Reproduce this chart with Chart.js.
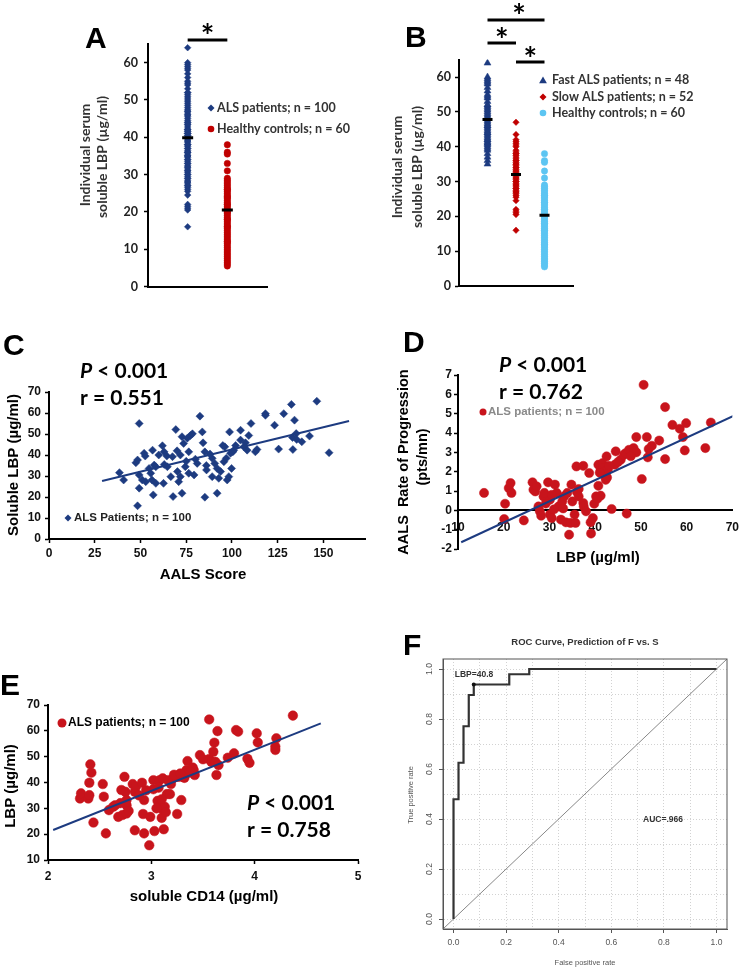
<!DOCTYPE html>
<html>
<head>
<meta charset="utf-8">
<title>LBP in ALS</title>
<script src="https://cdn.jsdelivr.net/npm/chart.js"></script>
<style>
  body { margin: 0; background: #fff; }
  #fig { position: relative; width: 749px; height: 968px; overflow: hidden; background: #fff; }
  #fig canvas { position: absolute; }
</style>
</head>
<body>
<div id="fig">
  <canvas id="panelA"></canvas>
  <canvas id="panelB"></canvas>
  <canvas id="panelC"></canvas>
  <canvas id="panelD"></canvas>
  <canvas id="panelE"></canvas>
  <canvas id="panelF"></canvas>
</div>
<script>
// ---- values ----

// A / B: individual serum LBP (ug/ml)
const fastLBP = [64, 60, 59.5, 59, 58.5, 58, 57, 56, 55, 54.5,
  54, 53, 52, 51.5, 51, 50.5, 50, 49.5, 49, 48.5,
  48, 47.5, 47, 46.5, 46, 45.5, 45, 44.5, 44, 43.5,
  43, 42.5, 42, 41.5, 41, 41, 40.5, 40, 39.5, 39,
  38, 37, 36, 35, 46, 44, 42, 52];
const slowLBP = [47, 43.5, 42, 41.5, 41, 40.5, 40, 39, 38.5, 38,
  37.5, 37, 36.5, 36, 35.5, 35, 34.5, 34, 33.5, 33,
  32.5, 32, 31.5, 31, 30.5, 30, 29.5, 29, 28.5, 28,
  27.5, 27, 26.5, 26, 25.5, 24.5, 22, 21.5, 21, 20.5,
  16, 33, 31, 35, 30, 28, 32, 34, 29, 36, 27, 38];
const healthyLBP = [38, 36, 35.5, 33, 31, 29, 28.5, 28, 27.5, 27,
  26.5, 26, 25.5, 25, 24.5, 24, 23.5, 23, 22.5, 22,
  21.5, 21, 20.5, 20, 19.5, 19, 18.5, 18, 17.5, 17,
  16.5, 16, 15.5, 15, 14.5, 14, 13.5, 13, 12.5, 12,
  11.5, 11, 10.5, 10, 9.5, 9, 8.5, 8, 7.5, 7,
  6.5, 6, 5.5, 22, 24, 18, 20, 26, 16, 12];
const alsLBP = fastLBP.concat(slowLBP);
const meanA = [39.9, 20.5];          // ALS patients, healthy controls
const meanB = [47.8, 32.0, 20.3];    // fast, slow, healthy
const ticksAB = [0, 10, 20, 30, 40, 50, 60];

// C: AALS score vs soluble LBP
const aalsScore = [38.5, 40.8, 49.3, 47.5, 48.4, 49.3, 49.3, 48.4, 52, 52.6,
  51, 52.9, 54.7, 55.6, 56.6, 57, 56.3, 57.5, 58.4, 58.4,
  62, 62.6, 62.9, 64.4, 64.7, 66.6, 67.5, 67.8, 69.3, 70.2,
  70.9, 71.8, 71.8, 72.7, 72.7, 73.6, 74.5, 75.6, 76.4, 77.3,
  76.4, 78.4, 79.3, 81, 82.5, 83.8, 84.2, 85.2, 85.2, 86.1,
  89.2, 89.2, 90.6, 91.9, 91.9, 92.8, 93.8, 95.6, 96.1, 96.9,
  97.4, 98.3, 98.7, 99.2, 99.8, 100.5, 101, 104.7, 104.7, 106.5,
  107.4, 108.3, 109.2, 110.4, 112.8, 113.7, 118.3, 118.3, 123.3, 125.5,
  128.3, 132.5, 133.1, 133.3, 134.2, 135.1, 135.4, 138.2, 142.4, 146.4,
  153.1, 60, 63, 75, 88, 95, 80, 70, 102, 86];
const lbpC = [31.6, 28.1, 55, 36.3, 37.6, 30.5, 24.2, 15.8, 40.8, 39.5,
  28.1, 27.3, 33.6, 31.3, 42.3, 21, 28.1, 35.2, 26.5, 34.4,
  44.4, 26.5, 41.5, 39.5, 34.4, 29.7, 39.2, 20.2, 52.1, 32.1,
  27.3, 40, 29.7, 21.8, 48.7, 45.5, 34.4, 48, 41.5, 49.3,
  31.3, 50.1, 30.5, 36, 58.5, 51, 45.8, 41.5, 19.9, 32.9,
  38.4, 29.7, 36, 33.6, 21.8, 28.9, 32.1, 36.8, 43.9, 38.4,
  28.1, 29.7, 51, 40.8, 33.6, 41.5, 42.3, 51.8, 47.1, 43.9,
  45.8, 42.3, 49.3, 55, 41.5, 42.6, 59.7, 58.9, 54.2, 42.8,
  59.7, 64.1, 48.3, 42.6, 56.6, 50.2, 47.4, 46.3, 49, 65.6,
  41.1, 40, 35.5, 37, 40.5, 44.5, 38, 42, 44.5, 35];
const fitCx = [29, 164];
const fitCy = [27.6, 56.2];
const ticksCx = [0, 25, 50, 75, 100, 125, 150];
const ticksCy = [0, 10, 20, 30, 40, 50, 60, 70];

// D: LBP vs AALS rate of progression
const lbpD = [15.7, 20.3, 20.1, 21.1, 21.5, 21.7, 24.4, 26.3, 26.5, 26.9,
  27.2, 27.6, 27.9, 28.2, 28.7, 28.9, 29.7, 30.1, 30.1, 30.5,
  31.2, 31.6, 32, 32.5, 32.8, 33.2, 33.6, 33.9, 34.3, 34.6,
  34.8, 35, 35.5, 35.7, 35.9, 36.4, 36.4, 37.4, 37.4, 37.5,
  38.7, 39, 39.1, 39.5, 39.8, 40.2, 40.7, 40.7, 41.2, 41.2,
  41.6, 41.8, 42, 42.1, 42.3, 42.5, 42.8, 43.6, 44.3, 44.5,
  45.6, 46.3, 46.9, 46.6, 47.4, 48.4, 48.6, 49, 49, 50.2,
  50.6, 51.3, 51.5, 51.7, 52.4, 54, 55.3, 55.3, 56.9, 58.5,
  59.2, 59.6, 59.9, 64.1, 65.3,
  29.2, 31, 33, 36, 38, 40.5, 41, 42.6, 43, 45, 47.8, 30.5];
const rateD = [0.9, 0.34, -0.45, 1.15, 1.41, 0.9, -0.52, 1.45, 1.07, 0.98,
  1.24, 0.2, -0.05, -0.28, 0.72, 0.9, 1.45, -0.22, 0.55, -0.4,
  1.33, 0.9, 0.2, -0.48, 0.46, 0.72, -0.62, 0.9, -1.26, -0.65,
  1.33, 0.46, -0.22, -0.65, 2.27, 0.72, 1.1, 2.3, 0.38, 0.2,
  1.93, -0.62, -1.2, -0.4, 0.34, 0.72, 1.27, 2.36, 2.1, 0.76,
  2.44, 2.2, 1.84, 2.01, 1.58, 2.79, 2.13, 0.07, 2.36, 3.05,
  2.62, 2.87, -0.17, 2.95, 3.13, 3.22, 3.05, 3.79, 3.0, 1.62,
  6.49, 3.79, 2.74, 3.17, 3.34, 3.61, 5.34, 2.65, 4.42, 4.22,
  3.79, 3.1, 4.51, 3.22, 4.54,
  0.35, 0.05, 0.1, 0.95, -0.05, 0.6, 1.95, 1.7, 2.3, 2.5, 2.8, 0.8];
const fitDx = [10.7, 70.3];
const fitDy = [-1.65, 4.89];
const ticksDx = [10, 20, 30, 40, 50, 60, 70];
const ticksDy = [-2, -1, 0, 1, 2, 3, 4, 5, 6, 7];

// E: soluble CD14 vs LBP
const cd14 = [2.31, 2.32, 2.39, 2.40, 2.40, 2.41, 2.42, 2.44, 2.53, 2.54,
  2.56, 2.59, 2.63, 2.65, 2.68, 2.71, 2.72, 2.74, 2.75, 2.76,
  2.76, 2.76, 2.82, 2.84, 2.84, 2.85, 2.91, 2.92, 2.93, 2.93,
  2.98, 2.99, 3.02, 3.02, 3.03, 3.06, 3.08, 3.09, 3.1, 3.1,
  3.11, 3.12, 3.12, 3.13, 3.15, 3.16, 3.18, 3.19, 3.21, 3.24,
  3.25, 3.27, 3.29, 3.31, 3.32, 3.34, 3.35, 3.36, 3.4, 3.41,
  3.42, 3.47, 3.56, 3.56, 3.58, 3.6, 3.61, 3.62, 3.63, 3.64,
  3.65, 3.74, 3.8, 3.82, 3.84, 3.93, 3.95, 4.02, 4.03, 4.2,
  4.2, 4.21, 4.37,
  2.78, 3.05, 3.14, 2.88, 3.22, 3.38, 3.07, 2.7, 3.5, 3.1, 2.95, 3.28];
const lbpE = [33.8, 35.8, 33.8, 35.1, 39.9, 47, 43.8, 24.5, 39.4, 34.5,
  20.3, 29.3, 30.6, 31.2, 26.7, 37.1, 27.4, 42.2, 36.4, 33.2,
  31.2, 28, 39.4, 36.4, 21.5, 38.3, 39.9, 27.8, 20.3, 33.2,
  15.7, 26.7, 40.9, 37.4, 21.2, 32.9, 40.9, 31.2, 29.9, 26.3,
  41.6, 21.9, 29.3, 30.6, 35.5, 40.9, 35.5, 39.4, 41.6, 42.2,
  27.8, 42.2, 33.2, 42.2, 41.8, 44.8, 48.3, 43.8, 45.8, 44.8,
  42.9, 50.6, 64.4, 49.1, 48, 51.9, 55.4, 48, 42.9, 59.9,
  46.7, 49.6, 51.3, 60.3, 59.7, 49.2, 47.6, 59, 55.5, 53.9,
  52.6, 57.1, 65.9,
  29, 30, 28.5, 35, 43, 44, 38, 32, 49, 33.5, 37, 43.5];
const fitEx = [2.05, 4.64];
const fitEy = [21.6, 62.9];
const ticksEx = [2, 3, 4, 5];
const ticksEy = [10, 20, 30, 40, 50, 60, 70];

// F: ROC curve, fast vs slow
const rocFpr = [0, 0, 0.019, 0.019, 0.038, 0.038, 0.058, 0.058, 0.077, 0.077, 0.212, 0.212, 0.288, 0.288, 1.0];
const rocTpr = [0, 0.479, 0.479, 0.625, 0.625, 0.771, 0.771, 0.896, 0.896, 0.938, 0.938, 0.979, 0.979, 1.0, 1.0];
const cutFpr = [0.077];
const cutTpr = [0.938];
const diagF = [-0.04, 1.04];
const gridF = [0, 0.1, 0.2, 0.3, 0.4, 0.5, 0.6, 0.7, 0.8, 0.9, 1.0];

// ---- colours ----
const NAVY = '#1d3b80';
const RED_A = '#c00000';
const SKY = '#5cc5f2';
const RED = '#c8141c';

// ---- helpers ----
const pts = (xs, ys) => xs.map((x, i) => ({x: x, y: ys[i]}));
const col = (x, ys) => ys.map(y => ({x: x, y: y}));

function axis(o) {
  return {
    type: 'linear', position: o.position, min: o.min, max: o.max,
    afterBuildTicks: s => { s.ticks = o.ticks.map(v => ({value: v})); },
    grid: {drawOnChartArea: false, drawTicks: !!o.tl, tickLength: o.tl || 0, tickColor: '#000', tickWidth: 1.5},
    border: {display: true, color: '#000', width: 2},
    ticks: {display: !!o.font, font: o.font, color: o.color || '#111', padding: o.pad || 0,
      autoSkip: false, maxRotation: 0, callback: v => v}
  };
}

function rAxis(position, showLabels) {
  return {
    type: 'linear', position: position, min: -0.04, max: 1.04,
    afterBuildTicks: s => { s.ticks = gridF.map(v => ({value: v})); },
    grid: {drawOnChartArea: true, color: '#d2d2d2', lineWidth: 1, drawTicks: true, tickLength: 4, tickWidth: 1,
      tickColor: c => (c.tick && Math.round(c.tick.value * 10) % 2 !== 0) ? 'rgba(0,0,0,0)' : '#555'},
    border: {display: true, color: '#555', width: 1, dash: [1, 2]},
    ticks: {display: showLabels, autoSkip: false, maxRotation: 0, padding: 5, color: '#555',
      font: {family: 'Liberation Sans', size: 8.5},
      callback: v => Math.round(v * 10) % 2 === 0 ? v.toFixed(1) : ''}
  };
}

function build(id, box, area, yW, xH, datasets, scales, draw) {
  const cv = document.getElementById(id);
  cv.width = box.w; cv.height = box.h;
  cv.style.left = box.x + 'px'; cv.style.top = box.y + 'px';
  scales.y.afterFit = s => { s.width = yW; };
  if (xH !== null) scales.x.afterFit = s => { s.height = xH; };
  return new Chart(cv, {
    type: 'scatter',
    data: {datasets: datasets},
    options: {
      responsive: false, animation: false, devicePixelRatio: 1,
      layout: {padding: {left: area.l - box.x - yW, top: area.t - box.y,
        right: box.x + box.w - area.r, bottom: box.y + box.h - area.b - (xH || 0)}},
      plugins: {legend: {display: false}, tooltip: {enabled: false}},
      scales: scales
    },
    plugins: [{
      id: 'notes',
      afterDraw(chart) {
        const ctx = chart.ctx;
        const sx = v => chart.scales.x.getPixelForValue(v) + box.x;
        const sy = v => chart.scales.y.getPixelForValue(v) + box.y;
        ctx.save();
        ctx.translate(-box.x, -box.y);
        draw(ctx, sx, sy);
        ctx.restore();
      }
    }]
  });
}

function label(ctx, str, x, y, font, color, align, base) {
  ctx.font = font;
  ctx.fillStyle = color || '#000';
  ctx.textAlign = align || 'left';
  ctx.textBaseline = base || 'alphabetic';
  ctx.fillText(str, x, y);
}

function vlabel(ctx, str, x, y, font, color) {
  ctx.save();
  ctx.translate(x, y);
  ctx.rotate(-Math.PI / 2);
  label(ctx, str, 0, 0, font, color, 'center', 'middle');
  ctx.restore();
}

function marker(ctx, style, x, y, r, color) {
  ctx.fillStyle = color;
  ctx.beginPath();
  if (style === 'circle') {
    ctx.arc(x, y, r, 0, Math.PI * 2);
  } else if (style === 'rectRot') {
    ctx.moveTo(x, y - r); ctx.lineTo(x + r, y); ctx.lineTo(x, y + r); ctx.lineTo(x - r, y);
  } else {
    ctx.moveTo(x, y - r); ctx.lineTo(x + r * 0.87, y + r * 0.5); ctx.lineTo(x - r * 0.87, y + r * 0.5);
  }
  ctx.closePath();
  ctx.fill();
}

function star(ctx, x, y) {
  ctx.font = 'bold 32px Lato';
  ctx.fillStyle = '#000';
  ctx.textAlign = 'center';
  ctx.textBaseline = 'alphabetic';
  const m = ctx.measureText('*');
  ctx.fillText('*', x, y + (m.actualBoundingBoxAscent - m.actualBoundingBoxDescent) / 2);
}

function sigBar(ctx, x1, x2, y) {
  ctx.strokeStyle = '#000';
  ctx.lineWidth = 3;
  ctx.beginPath();
  ctx.moveTo(x1, y); ctx.lineTo(x2, y);
  ctx.stroke();
}

function stats(ctx, x, y, r) {
  ctx.font = 'italic bold 21px Lato';
  ctx.fillStyle = '#000';
  ctx.textAlign = 'left';
  ctx.textBaseline = 'alphabetic';
  ctx.fillText('P', x, y);
  const w = ctx.measureText('P').width;
  label(ctx, ' < 0.001', x + w, y, 'bold 21px Lato', '#000');
  label(ctx, 'r = ' + r, x, y + 27, 'bold 21px Lato', '#000');
}

const LETTER = 'bold 30px "Liberation Sans"';
const calTick = {family: 'Lato', weight: 'bold', size: 12.5};
const arTick = {family: 'Liberation Sans', weight: 'bold', size: 12};

// ---- A ----
build('panelA', {x: 0, y: 0, w: 370, h: 300}, {l: 148, r: 267, t: 44, b: 290}, 40, 0, [
  {data: pts([1, 2], meanA), pointStyle: 'line', pointRadius: 5.5, borderWidth: 3, borderColor: '#000'},
  {data: col(1, alsLBP), pointStyle: 'rectRot', pointRadius: 3.3, backgroundColor: NAVY, borderColor: NAVY, borderWidth: 0.5},
  {data: col(2, healthyLBP), pointStyle: 'circle', pointRadius: 3.2, backgroundColor: RED_A, borderColor: RED_A, borderWidth: 0.5}
], {
  x: axis({position: 'bottom', min: 0, max: 3, ticks: [0]}),
  y: axis({position: 'left', min: 0, max: 65, ticks: ticksAB, tl: 4, pad: 6, font: calTick, color: '#222'})
}, (ctx, sx, sy) => {
  label(ctx, 'A', 85, 48, LETTER);
  vlabel(ctx, 'Individual serum', 85, 155, 'bold 14px Lato', '#333');
  vlabel(ctx, 'soluble LBP (\u00b5g/ml)', 102, 157, 'bold 14px Lato', '#333');
  marker(ctx, 'rectRot', 211, 108, 3.5, NAVY);
  label(ctx, 'ALS patients; n = 100', 217, 108, 'bold 12.5px Lato', '#333', 'left', 'middle');
  marker(ctx, 'circle', 211, 129, 3.3, RED_A);
  label(ctx, 'Healthy controls; n = 60', 217, 129, 'bold 12.5px Lato', '#333', 'left', 'middle');
  sigBar(ctx, sx(1), sx(2), 40);
  star(ctx, (sx(1) + sx(2)) / 2, 28);
});

// ---- B ----
build('panelB', {x: 370, y: 0, w: 379, h: 300}, {l: 459, r: 573, t: 59.6, b: 286}, 40, 0, [
  {data: pts([1, 2, 3], meanB), pointStyle: 'line', pointRadius: 5, borderWidth: 3, borderColor: '#000'},
  {data: col(1, fastLBP), pointStyle: 'triangle', pointRadius: 4, backgroundColor: NAVY, borderColor: NAVY, borderWidth: 0.5},
  {data: col(2, slowLBP), pointStyle: 'rectRot', pointRadius: 3.2, backgroundColor: RED_A, borderColor: RED_A, borderWidth: 0.5},
  {data: col(3, healthyLBP), pointStyle: 'circle', pointRadius: 3.2, backgroundColor: SKY, borderColor: SKY, borderWidth: 0.5}
], {
  x: axis({position: 'bottom', min: 0, max: 4, ticks: [0]}),
  y: axis({position: 'left', min: 0, max: 65, ticks: ticksAB, tl: 4, pad: 4, font: calTick, color: '#222'})
}, (ctx, sx, sy) => {
  label(ctx, 'B', 405, 47, LETTER);
  vlabel(ctx, 'Individual serum', 397, 167, 'bold 14px Lato', '#333');
  vlabel(ctx, 'soluble LBP (\u00b5g/ml)', 417, 167, 'bold 14px Lato', '#333');
  marker(ctx, 'triangle', 543, 81, 4.5, NAVY);
  label(ctx, 'Fast ALS patients; n = 48', 552, 80, 'bold 12.5px Lato', '#333', 'left', 'middle');
  marker(ctx, 'rectRot', 543, 97, 3.5, RED_A);
  label(ctx, 'Slow ALS patients; n = 52', 552, 97, 'bold 12.5px Lato', '#333', 'left', 'middle');
  marker(ctx, 'circle', 543, 113, 3.3, SKY);
  label(ctx, 'Healthy controls; n = 60', 552, 113, 'bold 12.5px Lato', '#333', 'left', 'middle');
  sigBar(ctx, sx(1), sx(3), 20);
  star(ctx, (sx(1) + sx(3)) / 2 + 3, 8);
  sigBar(ctx, sx(1), sx(2), 43);
  star(ctx, (sx(1) + sx(2)) / 2, 32);
  sigBar(ctx, sx(2), sx(3), 62);
  star(ctx, (sx(2) + sx(3)) / 2, 51);
});

// ---- C ----
build('panelC', {x: 0, y: 300, w: 370, h: 285}, {l: 49, r: 367, t: 392, b: 539}, 40, 20, [
  {data: pts(fitCx, fitCy), showLine: true, borderColor: NAVY, borderWidth: 2, pointRadius: 0},
  {data: pts(aalsScore, lbpC), pointStyle: 'rectRot', pointRadius: 4, backgroundColor: NAVY, borderColor: NAVY, borderWidth: 0.5}
], {
  x: axis({position: 'bottom', min: 0, max: 173, ticks: ticksCx, tl: 4, pad: 3, font: arTick}),
  y: axis({position: 'left', min: 0, max: 70, ticks: ticksCy, tl: 4, pad: 4, font: arTick})
}, (ctx, sx, sy) => {
  label(ctx, 'C', 3, 355, LETTER);
  stats(ctx, 80, 378, '0.551');
  vlabel(ctx, 'Soluble LBP (\u00b5g/ml)', 14, 465, 'bold 15px "Liberation Sans"', '#000');
  label(ctx, 'AALS Score', 203, 575, 'bold 15px "Liberation Sans"', '#000', 'center', 'middle');
  marker(ctx, 'rectRot', 68, 518, 3.5, NAVY);
  label(ctx, 'ALS Patients; n = 100', 74, 518, 'bold 11.5px "Liberation Sans"', '#222', 'left', 'middle');
});

// ---- D ----
build('panelD', {x: 370, y: 300, w: 379, h: 280}, {l: 458, r: 737, t: 375, b: 549}, 40, null, [
  {data: pts(fitDx, fitDy), showLine: true, borderColor: NAVY, borderWidth: 2, pointRadius: 0},
  {data: pts(lbpD, rateD), pointStyle: 'circle', pointRadius: 4.6, backgroundColor: RED, borderColor: RED, borderWidth: 0.5}
], {
  x: axis({position: {y: 0}, min: 10, max: 70, ticks: ticksDx, tl: 0, pad: 10, font: arTick}),
  y: axis({position: 'left', min: -2, max: 7, ticks: ticksDy, tl: 4, pad: 2, font: arTick})
}, (ctx, sx, sy) => {
  label(ctx, 'D', 403, 352, LETTER);
  stats(ctx, 499, 372, '0.762');
  vlabel(ctx, 'AALS  Rate of Progression', 404, 462, 'bold 14.5px "Liberation Sans"', '#000');
  vlabel(ctx, '(pts/mn)', 423, 457, 'bold 14.5px "Liberation Sans"', '#000');
  label(ctx, 'LBP (\u00b5g/ml)', 598, 558, 'bold 15px "Liberation Sans"', '#000', 'center', 'middle');
  marker(ctx, 'circle', 483, 412, 3.5, RED);
  label(ctx, 'ALS patients; n = 100', 488, 412, 'bold 11.5px "Liberation Sans"', '#8a8a8a', 'left', 'middle');
});

// ---- E ----
build('panelE', {x: 0, y: 585, w: 370, h: 330}, {l: 48, r: 358, t: 705, b: 860}, 40, 20, [
  {data: pts(fitEx, fitEy), showLine: true, borderColor: NAVY, borderWidth: 2, pointRadius: 0},
  {data: pts(cd14, lbpE), pointStyle: 'circle', pointRadius: 4.8, backgroundColor: RED, borderColor: RED, borderWidth: 0.5}
], {
  x: axis({position: 'bottom', min: 2, max: 5, ticks: ticksEx, tl: 4, pad: 5, font: arTick}),
  y: axis({position: 'left', min: 10, max: 70, ticks: ticksEy, tl: 4, pad: 4, font: arTick})
}, (ctx, sx, sy) => {
  label(ctx, 'E', 0, 695, LETTER);
  stats(ctx, 247, 810, '0.758');
  vlabel(ctx, 'LBP (\u00b5g/ml)', 11, 786, 'bold 15px "Liberation Sans"', '#000');
  label(ctx, 'soluble CD14 (\u00b5g/ml)', 204, 897, 'bold 15px "Liberation Sans"', '#000', 'center', 'middle');
  marker(ctx, 'circle', 62, 723, 4.5, RED);
  label(ctx, 'ALS patients; n = 100', 68, 723, 'bold 12px "Liberation Sans"', '#000', 'left', 'middle');
});

// ---- F ----
build('panelF', {x: 370, y: 590, w: 379, h: 378}, {l: 443, r: 727, t: 659, b: 929}, 30, 22, [
  {data: pts(cutFpr, cutTpr), pointStyle: 'circle', pointRadius: 2, backgroundColor: '#111', borderColor: '#111', borderWidth: 0},
  {data: pts(rocFpr, rocTpr), showLine: true, borderColor: '#333', borderWidth: 2.2, pointRadius: 0},
  {data: pts(diagF, diagF), showLine: true, borderColor: '#888', borderWidth: 1, pointRadius: 0}
], {
  x: rAxis('bottom', true),
  y: rAxis('left', false)
}, (ctx, sx, sy) => {
  ctx.strokeStyle = '#555';
  ctx.lineWidth = 1;
  ctx.strokeRect(sx(-0.04), sy(1.04), sx(1.04) - sx(-0.04), sy(-0.04) - sy(1.04));
  gridF.forEach(v => {
    if (Math.round(v * 10) % 2 === 0) vlabel(ctx, v.toFixed(1), 430, sy(v), '8.5px "Liberation Sans"', '#555');
  });
  label(ctx, 'F', 403, 655, LETTER);
  label(ctx, 'ROC Curve, Prediction of F vs. S', 585, 642, 'bold 9.5px "Liberation Sans"', '#333', 'center', 'middle');
  label(ctx, 'LBP=40.8', 474, 675, 'bold 8.5px "Liberation Sans"', '#333', 'center', 'middle');
  label(ctx, 'AUC=.966', 663, 820, 'bold 8.5px "Liberation Sans"', '#333', 'center', 'middle');
  vlabel(ctx, 'True positive rate', 411, 795, '7.5px "Liberation Sans"', '#555');
  label(ctx, 'False positive rate', 585, 963, '7.5px "Liberation Sans"', '#555', 'center', 'middle');
});
</script>
</body>
</html>
